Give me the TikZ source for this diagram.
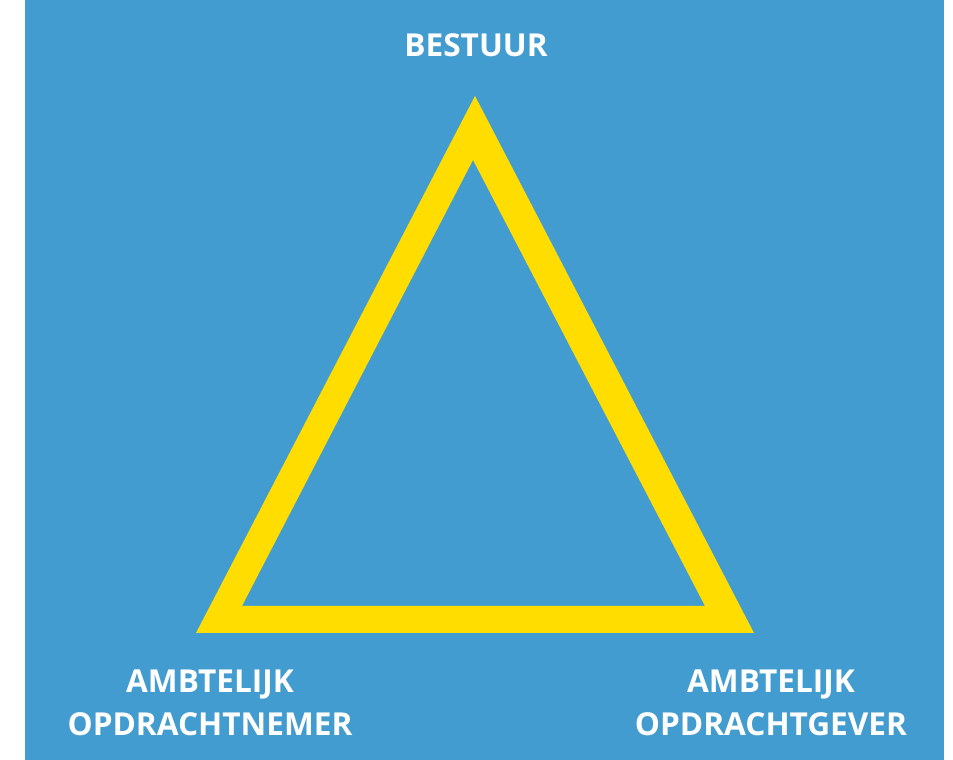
\documentclass[tikz,border=0pt]{standalone}
\usepackage{fontspec}
\setmainfont{Open Sans}
\definecolor{bgblue}{RGB}{66,156,207}
\definecolor{triyellow}{RGB}{255,221,0}
\begin{document}
\begin{tikzpicture}[x=1pt,y=1pt,
  label/.style={text=white,font=\fontsize{31.6}{43}\selectfont\bfseries,align=center,inner sep=0pt,anchor=base}]
\useasboundingbox (0,0) rectangle (953,760);
\fill[white] (0,0) rectangle (953,760);
\fill[bgblue] (25,0) rectangle (944,760);
% triangle corners
\coordinate (top) at (475,664);
\coordinate (bl) at (196,127);
\coordinate (br) at (754,127);
\coordinate (itop) at (473,600);
\coordinate (ibl) at (242,154);
\coordinate (ibr) at (705,154);
\fill[triyellow,even odd rule] (top) -- (br) -- (bl) -- cycle (itop) -- (ibr) -- (ibl) -- cycle;
\node[label] (bestuur) at (476,703) {BESTUUR};
\node[label] (nemer) at (210,24) {AMBTELIJK\\OPDRACHTNEMER};
\node[label] (gever) at (771,24) {AMBTELIJK\\OPDRACHTGEVER};
\end{tikzpicture}
\end{document}
